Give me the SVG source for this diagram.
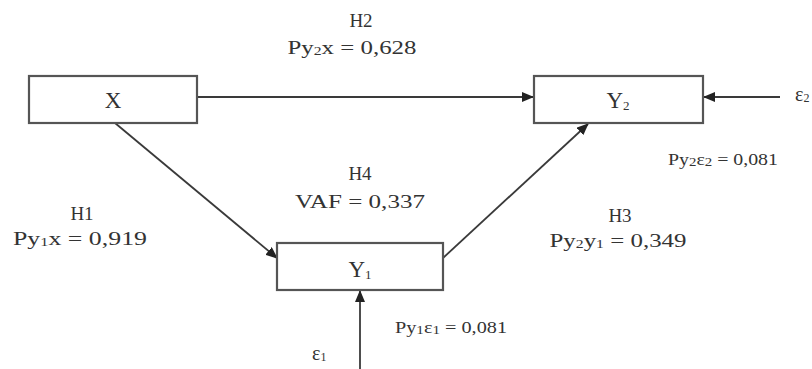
<svg xmlns="http://www.w3.org/2000/svg" width="812" height="369" viewBox="0 0 812 369">
<defs>
<marker id="ah" markerWidth="12" markerHeight="10" refX="11" refY="5" orient="auto" markerUnits="userSpaceOnUse">
<path d="M0,0 L12,5 L0,10 Z" fill="#222"/>
</marker>
<style>
.box{fill:#fff;stroke:#555;stroke-width:2.2}
.lbl{font-family:"Liberation Serif","Times New Roman",serif;font-size:23px;fill:#333;text-anchor:middle}
.t{font-family:"Liberation Serif","Times New Roman",serif;font-size:19px;fill:#333;text-anchor:middle}
.s{font-family:"Liberation Serif","Times New Roman",serif;font-size:16px;fill:#333}
.e{font-family:"Liberation Serif","Times New Roman",serif;font-size:20px;fill:#333}
.sub{font-size:12px}
.con{stroke:#3a3a3a;stroke-width:1.8;fill:none;marker-end:url(#ah)}
</style>
</defs>
<rect width="812" height="369" fill="#fff"/>
<g id="connectors">
<line class="con" x1="197" y1="97" x2="533" y2="97"/>
<line class="con" x1="780" y1="97" x2="704" y2="97"/>
<line class="con" x1="115" y1="123" x2="277" y2="258"/>
<line class="con" x1="443" y1="258" x2="588" y2="124"/>
<line class="con" x1="360" y1="369" x2="360" y2="291"/>
</g>
<g id="node-X">
<rect class="box" x="29" y="76" width="168" height="47"/>
<text class="lbl" x="113" y="108">X</text>
</g>
<g id="node-Y2">
<rect class="box" x="534" y="76" width="169" height="47"/>
<text class="lbl" x="618" y="108">Y<tspan font-size="13" dy="2">2</tspan></text>
</g>
<g id="node-Y1">
<rect class="box" x="277" y="243" width="166" height="47"/>
<text class="lbl" x="360" y="277">Y<tspan font-size="13" dy="2">1</tspan></text>
</g>
<g id="labels">
<text class="t" x="361" y="27">H2</text>
<text class="t" x="352" y="54" textLength="129" lengthAdjust="spacingAndGlyphs">Py<tspan class="sub" dy="1">2</tspan><tspan dy="-1">x = 0,628</tspan></text>
<text class="t" x="360" y="180">H4</text>
<text class="t" x="360" y="208" textLength="130" lengthAdjust="spacingAndGlyphs">VAF = 0,337</text>
<text class="t" x="82" y="220">H1</text>
<text class="t" x="80" y="245" textLength="134" lengthAdjust="spacingAndGlyphs">Py<tspan class="sub" dy="1">1</tspan><tspan dy="-1">x = 0,919</tspan></text>
<text class="t" x="620" y="222">H3</text>
<text class="t" x="618" y="247" textLength="137" lengthAdjust="spacingAndGlyphs">Py<tspan class="sub" dy="1">2</tspan><tspan dy="-1">y</tspan><tspan class="sub" dy="1">1</tspan><tspan dy="-1"> = 0,349</tspan></text>
<text class="s" x="395" y="333" textLength="112" lengthAdjust="spacingAndGlyphs">Py<tspan class="sub" dy="1">1</tspan><tspan dy="-1">ε</tspan><tspan class="sub" dy="1">1</tspan><tspan dy="-1"> = 0,081</tspan></text>
<text class="s" x="668" y="165" textLength="110" lengthAdjust="spacingAndGlyphs">Py<tspan class="sub" dy="1">2</tspan><tspan dy="-1">ε</tspan><tspan class="sub" dy="1">2</tspan><tspan dy="-1"> = 0,081</tspan></text>
<text class="e" x="312" y="360">ε<tspan class="sub" dy="1">1</tspan></text>
<text class="e" x="795" y="101">ε<tspan class="sub" dy="1">2</tspan></text>
</g>
</svg>
